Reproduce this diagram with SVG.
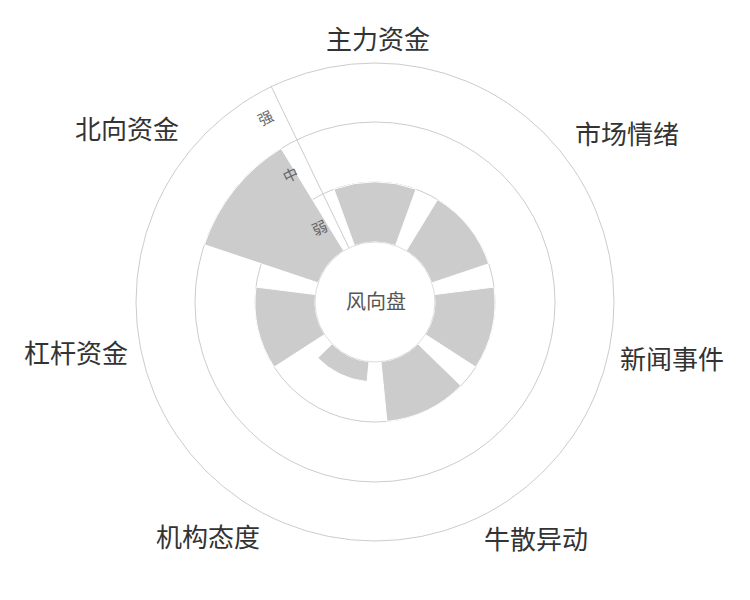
<svg xmlns="http://www.w3.org/2000/svg" width="750" height="600" viewBox="0 0 750 600">
<style>
.grid{fill:none;stroke:#cccccc;stroke-width:1}
.bar{fill:#cccccc;stroke:#ffffff;stroke-width:1}
.lab{font-family:"Liberation Sans","Noto Sans CJK SC",sans-serif;font-size:26px;fill:#333333;text-anchor:middle}
.tick{font-family:"Liberation Sans","Noto Sans CJK SC",sans-serif;font-size:15px;fill:#666666;text-anchor:middle}
</style>
<rect width="750" height="600" fill="#ffffff"/>
<g id="grid">
<circle class="grid" cx="375" cy="302" r="239"/>
<circle class="grid" cx="375" cy="302" r="180"/>
<circle class="grid" cx="375" cy="302" r="120"/>
</g>
<g id="bars">
<path id="bar-zhuli" class="bar" d="M354.48 245.62 L333.96 189.24 A120 120 0 0 1 416.04 189.24 L395.52 245.62 A60 60 0 0 0 354.48 245.62 Z"/>
<path id="bar-shichang" class="bar" d="M406.29 250.8 L437.58 199.6 A120 120 0 0 1 488.75 263.79 L431.87 282.9 A60 60 0 0 0 406.29 250.8 Z"/>
<path id="bar-xinwen" class="bar" d="M434.53 294.54 L494.06 287.08 A120 120 0 0 1 475.8 367.1 L425.4 334.55 A60 60 0 0 0 434.53 294.54 Z"/>
<path id="bar-niusan" class="bar" d="M417.95 343.89 L460.91 385.78 A120 120 0 0 1 386.94 421.4 L380.97 361.7 A60 60 0 0 0 417.95 343.89 Z"/>
<path id="bar-jigou" class="bar" d="M369.03 361.7 L367.04 381.6 A80 80 0 0 1 317.73 357.86 L332.05 343.89 A60 60 0 0 0 369.03 361.7 Z"/>
<path id="bar-ganggan" class="bar" d="M324.6 334.55 L274.2 367.1 A120 120 0 0 1 255.94 287.08 L315.47 294.54 A60 60 0 0 0 324.6 334.55 Z"/>
<path id="bar-beixiang" class="bar" d="M318.13 282.9 L204.38 244.69 A180 180 0 0 1 281.13 148.41 L343.71 250.8 A60 60 0 0 0 318.13 282.9 Z"/>
</g>
<g id="connectors">
<line class="grid" x1="348.97" y1="247.94" x2="270.86" y2="85.76"/>
</g>
<g id="axis-labels">
<text class="tick" transform="rotate(-25.7 322 233)" x="322" y="233">弱</text>
<text class="tick" transform="rotate(-25.7 293 180)" x="293" y="180">中</text>
<text class="tick" transform="rotate(-25.7 268 123)" x="268" y="123">强</text>
</g>
<g id="center">
<circle cx="375" cy="302" r="60" fill="#ffffff" stroke="#dddddd"/>
<text x="376" y="309" font-family="Liberation Sans,Noto Sans CJK SC,sans-serif" font-size="20" fill="#555555" text-anchor="middle">风向盘</text>
</g>
<g id="n-zhuli"><text class="lab" x="378" y="49">主力资金</text></g>
<g id="n-shichang"><text class="lab" x="627" y="144">市场情绪</text></g>
<g id="n-xinwen"><text class="lab" x="672" y="369">新闻事件</text></g>
<g id="n-niusan"><text class="lab" x="536" y="549">牛散异动</text></g>
<g id="n-jigou"><text class="lab" x="208" y="547">机构态度</text></g>
<g id="n-ganggan"><text class="lab" x="76" y="363">杠杆资金</text></g>
<g id="n-beixiang"><text class="lab" x="127" y="139">北向资金</text></g>
</svg>
